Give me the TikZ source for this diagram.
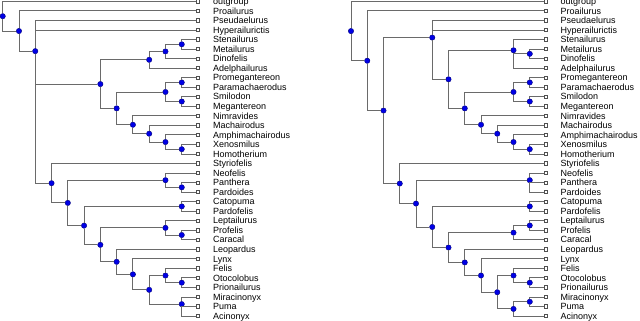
\documentclass[tikz,border=0pt]{standalone}
\usepackage{fontspec}
\setmainfont{Liberation Sans}
\definecolor{edgec}{HTML}{6A6A6A}
\definecolor{boxc}{HTML}{505050}
\definecolor{dotc}{HTML}{0000E6}
\definecolor{dotb}{HTML}{00007A}
\tikzset{
  treeline/.style={draw=edgec, line width=0.9pt},
  ndot/.style={circle, fill=dotc, draw=dotb, line width=0.4pt, inner sep=0pt, minimum size=5.4pt},
  leafbox/.style={rectangle, draw=boxc, fill=white, line width=0.7pt, inner sep=0pt, minimum size=3.4pt},
  lab/.style={anchor=base west, inner sep=0pt, font=\fontsize{9}{9}\selectfont, text=black},
}
\begin{document}
\begin{tikzpicture}[x=1pt,y=1pt]
\useasboundingbox (0,0) rectangle (640,-321);
% ---------------- left tree ----------------
\begin{scope}[x=16.275pt, y=-9.535pt, yshift=-1.4pt, xshift=2.7pt]
\foreach \n [count=\i from 0] in {outgroup,Proailurus,Pseudaelurus,Hyperailurictis,Stenailurus,Metailurus,Dinofelis,Adelphailurus,Promegantereon,Paramachaerodus,Smilodon,Megantereon,Nimravides,Machairodus,Amphimachairodus,Xenosmilus,Homotherium,Styriofelis,Neofelis,Panthera,Pardoides,Catopuma,Pardofelis,Leptailurus,Profelis,Caracal,Leopardus,Lynx,Felis,Otocolobus,Prionailurus,Miracinonyx,Puma,Acinonyx}{
  \node[leafbox] (L\i) at (12,\i) {};
  \node[lab] (LT\i) at ([xshift=15pt,yshift=-3.2pt]L\i.center) {\n};
}
\node[ndot] (A0) at (0,1.5543) {};
\node[ndot] (A1) at (1,3.1086) {};
\node[ndot] (A2) at (2,5.2172) {};
\node[ndot] (AM) at (6,8.671875) {};
\node[ndot] (AM1) at (9,6.125) {};
\node[ndot] (AM2) at (10,5.25) {};
\node[ndot] (AM3) at (11,4.5) {};
\node[ndot] (AS0) at (7,11.21875) {};
\node[ndot] (AS1) at (10,9.5) {};
\node[ndot] (AS2) at (11,8.5) {};
\node[ndot] (AS3) at (11,10.5) {};
\node[ndot] (AH0) at (8,12.9375) {};
\node[ndot] (AH1) at (9,13.875) {};
\node[ndot] (AH2) at (10,14.75) {};
\node[ndot] (AH3) at (11,15.5) {};
\node[ndot] (AF0) at (3,19.0664) {};
\node[ndot] (AF1) at (4,21.1328) {};
\node[ndot] (AF2) at (10,18.75) {};
\node[ndot] (AF2a) at (11,19.5) {};
\node[ndot] (AF3) at (5,23.5156) {};
\node[ndot] (AF4) at (11,21.5) {};
\node[ndot] (AF5) at (6,25.5313) {};
\node[ndot] (AF6) at (10,23.75) {};
\node[ndot] (AF6a) at (11,24.5) {};
\node[ndot] (AF7) at (7,27.3125) {};
\node[ndot] (AF8) at (8,28.625) {};
\node[ndot] (AF9) at (9,30.25) {};
\node[ndot] (AF10) at (10,28.75) {};
\node[ndot] (AF10a) at (11,29.5) {};
\node[ndot] (AF11) at (11,31.75) {};
\foreach \p/\c in {A0/L0, A0/A1, A1/L1, A1/A2, A2/L2, A2/L3, A2/AM, A2/AF0,
  AM/AM1, AM/AS0, AM1/AM2, AM1/L7, AM2/AM3, AM2/L6, AM3/L4, AM3/L5,
  AS0/AS1, AS0/AH0, AS1/AS2, AS1/AS3, AS2/L8, AS2/L9, AS3/L10, AS3/L11,
  AH0/L12, AH0/AH1, AH1/L13, AH1/AH2, AH2/L14, AH2/AH3, AH3/L15, AH3/L16,
  AF0/L17, AF0/AF1, AF1/AF2, AF1/AF3, AF2/L18, AF2/AF2a, AF2a/L19, AF2a/L20,
  AF3/AF4, AF3/AF5, AF4/L21, AF4/L22, AF5/AF6, AF5/AF7, AF6/L23, AF6/AF6a,
  AF6a/L24, AF6a/L25, AF7/L26, AF7/AF8, AF8/L27, AF8/AF9, AF9/AF10, AF9/AF11,
  AF10/L28, AF10/AF10a, AF10a/L29, AF10a/L30, AF11/L31, AF11/L32, AF11/L33}
  \draw[treeline] (\p) |- (\c);
\end{scope}
% ---------------- right tree ----------------
\begin{scope}[x=16.25pt, y=-9.535pt, yshift=-1.4pt, xshift=351pt]
\foreach \n [count=\i from 0] in {outgroup,Proailurus,Pseudaelurus,Hyperailurictis,Stenailurus,Metailurus,Dinofelis,Adelphailurus,Promegantereon,Paramachaerodus,Smilodon,Megantereon,Nimravides,Machairodus,Amphimachairodus,Xenosmilus,Homotherium,Styriofelis,Neofelis,Panthera,Pardoides,Catopuma,Pardofelis,Leptailurus,Profelis,Caracal,Leopardus,Lynx,Felis,Otocolobus,Prionailurus,Miracinonyx,Puma,Acinonyx}{
  \node[leafbox] (R\i) at (12,\i) {};
  \node[lab] (RT\i) at ([xshift=14.5pt,yshift=-3.2pt]R\i.center) {\n};
}
\node[ndot] (B0) at (0,3.1118) {};
\node[ndot] (B1) at (1,6.2236) {};
\node[ndot] (B2) at (2,11.4473) {};
\node[ndot] (B3) at (5,3.7930) {};
\node[ndot] (B5) at (6,8.1719) {};
\node[ndot] (B6) at (10,5.125) {};
\node[ndot] (B6a) at (11,5.5) {};
\node[ndot] (B7) at (7,11.21875) {};
\node[ndot] (B8) at (10,9.5) {};
\node[ndot] (B8a) at (11,8.5) {};
\node[ndot] (B8b) at (11,10.5) {};
\node[ndot] (B9) at (8,12.9375) {};
\node[ndot] (B10) at (9,13.875) {};
\node[ndot] (B11) at (10,14.75) {};
\node[ndot] (B12) at (11,15.5) {};
\node[ndot] (B4) at (3,19.1016) {};
\node[ndot] (B13) at (4,21.2031) {};
\node[ndot] (B14) at (11,18.75) {};
\node[ndot] (B15) at (5,23.6563) {};
\node[ndot] (B16) at (11,21.5) {};
\node[ndot] (B17) at (6,25.8125) {};
\node[ndot] (B18) at (10,24.25) {};
\node[ndot] (B18a) at (11,23.5) {};
\node[ndot] (B19) at (7,27.375) {};
\node[ndot] (B20) at (8,28.75) {};
\node[ndot] (B21) at (9,30.5) {};
\node[ndot] (B22) at (10,28.75) {};
\node[ndot] (B22a) at (11,29.5) {};
\node[ndot] (B23) at (10,32.25) {};
\node[ndot] (B23a) at (11,31.5) {};
\foreach \p/\c in {B0/R0, B0/B1, B1/R1, B1/B2, B2/B3, B2/B4, B3/R2, B3/R3, B3/B5,
  B5/B6, B5/B7, B6/R4, B6/B6a, B6/R7, B6a/R5, B6a/R6, B7/B8, B7/B9,
  B8/B8a, B8/B8b, B8a/R8, B8a/R9, B8b/R10, B8b/R11, B9/R12, B9/B10,
  B10/R13, B10/B11, B11/R14, B11/B12, B12/R15, B12/R16, B4/R17, B4/B13,
  B13/B14, B13/B15, B14/R18, B14/R19, B14/R20, B15/B16, B15/B17,
  B16/R21, B16/R22, B17/B18, B17/B19, B18/B18a, B18/R25, B18a/R23, B18a/R24,
  B19/R26, B19/B20, B20/R27, B20/B21, B21/B22, B21/B23, B22/R28, B22/B22a,
  B22a/R29, B22a/R30, B23/B23a, B23/R33, B23a/R31, B23a/R32}
  \draw[treeline] (\p) |- (\c);
\end{scope}
\end{tikzpicture}
\end{document}
